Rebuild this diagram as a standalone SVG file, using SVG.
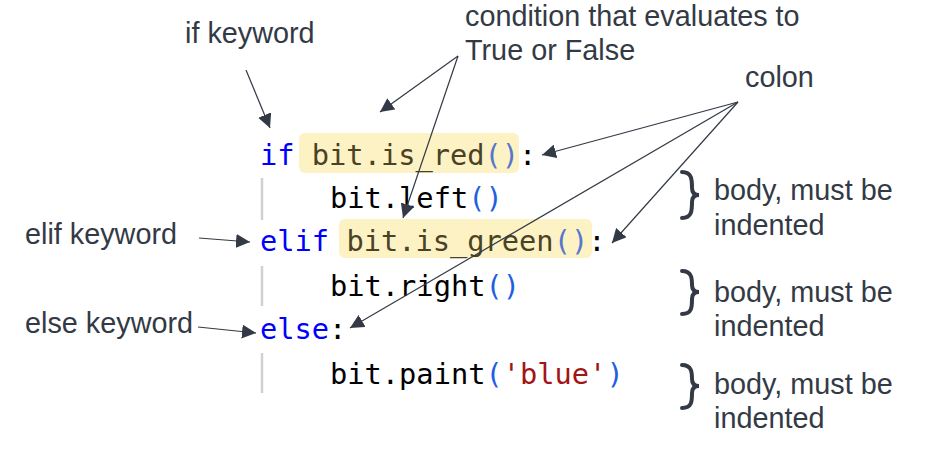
<svg xmlns="http://www.w3.org/2000/svg" width="927" height="453" viewBox="0 0 927 453">
<defs>
<marker id="ah" viewBox="0 0 10 10" refX="10" refY="5" markerWidth="14" markerHeight="14" markerUnits="userSpaceOnUse" orient="auto">
<path d="M0,0 L10,5 L0,10 z" fill="#333a45"/>
</marker>
<style>
.lbl{font-family:"Liberation Sans",Arial,sans-serif;font-size:28.8px;fill:#333a45}
.code{font-family:"DejaVu Sans Mono",monospace;font-size:28.7px;fill:#000}
.kw{fill:#0000ff}
.par{fill:#1f5fe0}
.hpar{fill:#5577cc}
.htxt{fill:#4a4224}
.str{fill:#a31515}
.hl{fill:#fdf2c4}
.guide{stroke:#d0d0d0;stroke-width:2.5}
.conn{stroke:#333a45;stroke-width:1.2;fill:none;marker-end:url(#ah)}
.brace{stroke:#333a45;stroke-width:4;fill:none;stroke-linecap:round}
</style>
</defs>
<rect width="927" height="453" fill="#fff"/>
<g id="code">
<rect class="hl" x="299" y="133" width="220" height="40" rx="6"/>
<rect class="hl" x="339" y="219" width="253" height="39" rx="6"/>
<line class="guide" x1="262" y1="178" x2="262" y2="220"/>
<line class="guide" x1="262" y1="266" x2="262" y2="306"/>
<line class="guide" x1="262" y1="353" x2="262" y2="393"/>
<text class="code" x="260" y="165"><tspan class="kw">if</tspan> <tspan class="htxt">bit.is_red</tspan><tspan class="hpar">()</tspan>:</text>
<text class="code" x="330" y="208">bit.left<tspan class="par">()</tspan></text>
<text class="code" x="260" y="251"><tspan class="kw">elif</tspan> <tspan class="htxt">bit.is_green</tspan><tspan class="hpar">()</tspan>:</text>
<text class="code" x="330" y="296">bit.right<tspan class="par">()</tspan></text>
<text class="code" x="260" y="339"><tspan class="kw">else</tspan>:</text>
<text class="code" x="330" y="384">bit.paint<tspan class="par">(</tspan><tspan class="str">'blue'</tspan><tspan class="par">)</tspan></text>
</g>
<g id="if-label"><text class="lbl" x="185" y="43">if keyword</text></g>
<g id="cond-label"><text class="lbl" x="465" y="26">condition that evaluates to</text><text class="lbl" x="465" y="60">True or False</text></g>
<g id="colon-label"><text class="lbl" x="745" y="87">colon</text></g>
<g id="elif-label"><text class="lbl" x="25" y="244">elif keyword</text></g>
<g id="else-label"><text class="lbl" x="25" y="333">else keyword</text></g>
<g id="body1"><path class="brace" d="M682,172 C692,172 692,180 692,188 C692,192 694,195 699,195 C694,195 692,198 692,202 C692,210 692,218 682,218"/><text class="lbl" x="714" y="200">body, must be</text><text class="lbl" x="714" y="235">indented</text></g>
<g id="body2"><path class="brace" d="M682,271 C692,271 692,279 692,285 C692,289 694,292 699,292 C694,292 692,295 692,299 C692,307 692,314 682,314"/><text class="lbl" x="714" y="302">body, must be</text><text class="lbl" x="714" y="336">indented</text></g>
<g id="body3"><path class="brace" d="M682,365 C692,365 692,373 692,379 C692,383 694,386 699,386 C694,386 692,389 692,393 C692,401 692,408 682,408"/><text class="lbl" x="714" y="394">body, must be</text><text class="lbl" x="714" y="428">indented</text></g>
<g id="connectors">
<line class="conn" x1="246" y1="70" x2="270" y2="128"/>
<line class="conn" x1="458" y1="56" x2="380" y2="112"/>
<line class="conn" x1="458" y1="56" x2="403" y2="218"/>
<line class="conn" x1="738" y1="102" x2="542" y2="155"/>
<line class="conn" x1="738" y1="102" x2="612" y2="243"/>
<line class="conn" x1="738" y1="102" x2="350" y2="328"/>
<line class="conn" x1="199" y1="238" x2="250" y2="242"/>
<line class="conn" x1="198" y1="327" x2="256" y2="333"/>
</g>
</svg>
